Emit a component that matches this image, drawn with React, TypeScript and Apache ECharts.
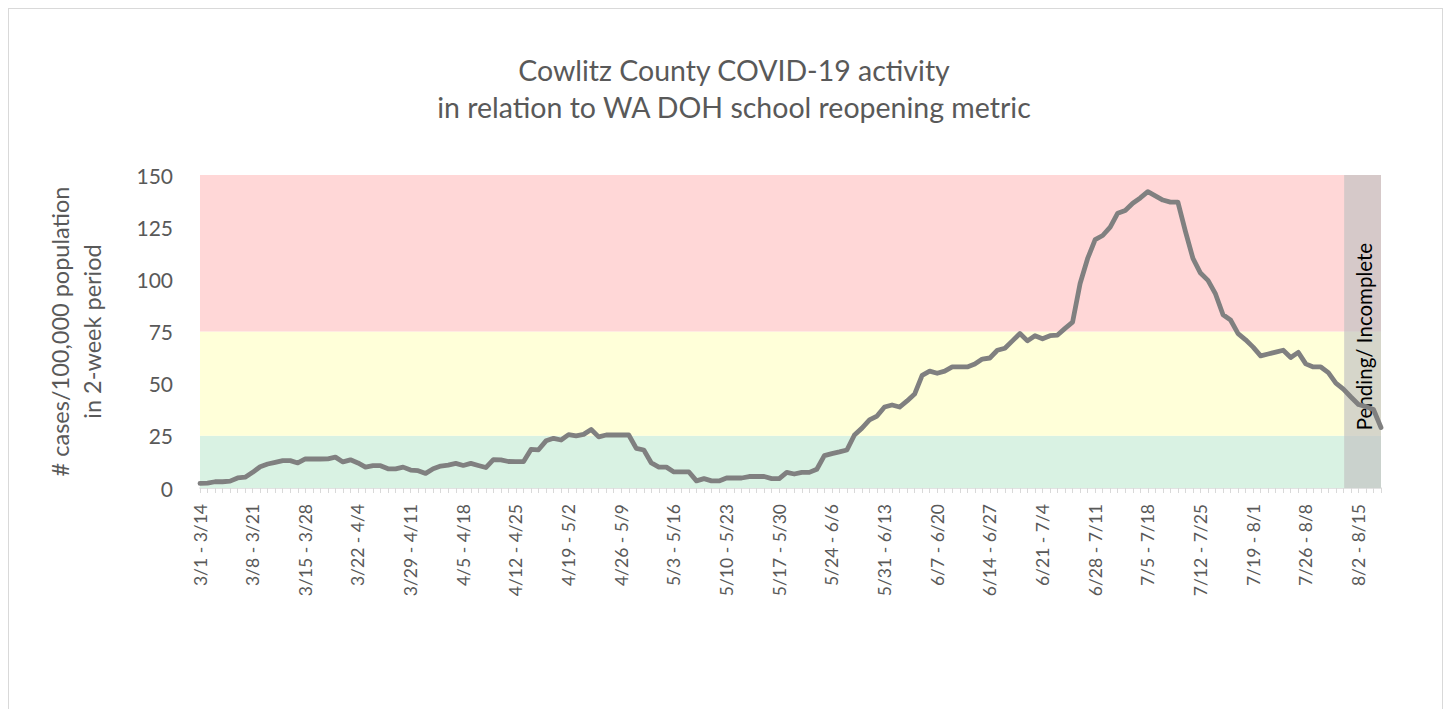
import React, { useEffect, useRef } from "react";
import * as echarts from "echarts";

// ---- data ----
const FIRST_DAY = { year: 2020, month: 2, day: 1 }; // March 1 (month 0-based)
const PERIOD_COUNT = 158;
const makeLabel = (i: number) => {
  const s = new Date(Date.UTC(FIRST_DAY.year, FIRST_DAY.month, FIRST_DAY.day + i));
  const e = new Date(Date.UTC(FIRST_DAY.year, FIRST_DAY.month, FIRST_DAY.day + i + 13));
  return `${s.getUTCMonth() + 1}/${s.getUTCDate()} - ${e.getUTCMonth() + 1}/${e.getUTCDate()}`;
};
const categories: string[] = Array.from({ length: PERIOD_COUNT }, (_, i) => makeLabel(i));

const casesPer100k: number[] = [
  2.2, 2.3, 3, 3, 3.3, 4.8, 5.2, 7.5, 10.2, 11.5,
  12.3, 13.1, 13.1, 12, 13.9, 13.9, 13.9, 14, 14.8, 12.5,
  13.5, 12, 10, 10.7, 10.7, 9.2, 9.2, 10, 8.6, 8.3,
  7, 9.2, 10.5, 11, 11.8, 10.8, 11.8, 10.8, 9.8, 13.6,
  13.5, 12.7, 12.6, 12.6, 18.5, 18.3, 22.6, 23.8, 23, 25.6,
  25, 25.7, 28, 24.5, 25.4, 25.4, 25.4, 25.4, 19, 18.2,
  12, 10, 10, 7.7, 7.7, 7.7, 3.4, 4.5, 3.4, 3.4,
  4.8, 4.8, 4.8, 5.5, 5.5, 5.5, 4.5, 4.5, 7.5, 6.7,
  7.5, 7.5, 9, 15.5, 16.5, 17.3, 18.2, 25.4, 28.7, 32.6,
  34.5, 38.8, 39.8, 38.8, 41.7, 45, 54, 56, 55, 56,
  58, 58, 58, 59.4, 61.8, 62.3, 66, 67, 70.5, 74,
  70.5, 73, 71.5, 73, 73.3, 76.5, 79.5, 98, 110, 119,
  121, 125, 131.7, 133, 136.5, 139, 142, 140, 138, 137,
  137, 123, 110, 103, 99.5, 93, 83, 80.5, 74, 71,
  67.5, 63.3, 64.2, 65.1, 66, 62.5, 65, 59.5, 58, 58,
  55.3, 50.3, 47.4, 43.6, 40, 39, 37.6, 29,
];

const bandLimits: number[] = [0, 25, 75, 150];
const bandColors: string[] = ["#D9F2E3", "#FFFFD9", "#FFD7D7"];
const pendingRange: number[] = [152.1, 157.5];
const pendingLabel = "Pending/ Incomplete";
const yTicks = { min: 0, max: 150, interval: 25 };

const titleText = "Cowlitz County COVID-19 activity\nin relation to WA DOH school reopening metric";
const yName = "# cases/100,000 population\nin 2-week period";

const FONT = "Lato, 'Open Sans', sans-serif";

export default function App() {
  const ref = useRef<HTMLDivElement>(null);
  useEffect(() => {
    if (!ref.current) return;
    const chart = echarts.init(ref.current, undefined, { renderer: "svg" });
    const bandAreas = bandColors.map((c, k) => [
      { yAxis: bandLimits[k], itemStyle: { color: c } },
      { yAxis: bandLimits[k + 1] },
    ]);
    chart.setOption({
      animation: false,
      title: {
        text: titleText,
        left: 729,
        textAlign: "center",
        top: 46,
        textStyle: {
          fontFamily: FONT,
          fontSize: 28.5,
          fontWeight: "normal",
          color: "#595959",
          lineHeight: 37,
        },
      },
      grid: { left: 200, right: 69, top: 175, bottom: 221, containLabel: false },
      xAxis: [
        {
          type: "category",
          data: categories,
          boundaryGap: false,
          axisLine: { lineStyle: { color: "#d9d9d9", width: 1.5 } },
          axisTick: { show: true, interval: 0, length: 5, lineStyle: { color: "#d9d9d9" } },
          axisLabel: {
            interval: 6,
            rotate: 90,
            margin: 16,
            fontSize: 17.5,
            color: "#595959",
            fontFamily: FONT,
          },
          splitLine: { show: false },
        },
        { type: "value", min: 0, max: PERIOD_COUNT - 1, show: false, position: "bottom" },
      ],
      yAxis: {
        type: "value",
        min: yTicks.min,
        max: yTicks.max,
        interval: yTicks.interval,
        axisLine: { show: false },
        axisTick: { show: false },
        splitLine: { show: false },
        axisLabel: { margin: 27, fontSize: 21, color: "#595959", fontFamily: FONT },
        name: yName,
        nameLocation: "middle",
        nameRotate: 90,
        nameGap: 92,
        nameTextStyle: { fontSize: 23.5, color: "#595959", fontFamily: FONT, lineHeight: 32 },
      },
      series: [
        {
          type: "line",
          data: casesPer100k,
          symbol: "none",
          silent: true,
          lineStyle: { opacity: 0 },
          z: 1,
          markArea: { silent: true, data: bandAreas },
        },
        {
          type: "line",
          data: casesPer100k,
          symbol: "none",
          lineStyle: { color: "#808080", width: 4.8, cap: "round", join: "round" },
          z: 3,
        },
        {
          type: "line",
          xAxisIndex: 1,
          data: [[pendingRange[0], null]],
          symbol: "none",
          silent: true,
          z: 5,
          markArea: {
            silent: true,
            itemStyle: { color: "rgba(195,195,195,0.68)" },
            label: {
              show: true,
              position: "inside",
              rotate: 90,
              fontSize: 20.5,
              color: "#000000",
              fontFamily: FONT,
              offset: [-5, 1],
            },
            data: [[{ xAxis: pendingRange[0], name: pendingLabel }, { xAxis: pendingRange[1] }]],
          },
        },
      ],
    });
    return () => chart.dispose();
  }, []);
  return (
    <div style={{ position: "absolute", left: 0, top: 0, width: 1450, height: 709, overflow: "hidden", background: "#fff" }}>
      <div ref={ref} style={{ position: "absolute", left: 0, top: 0, width: 1450, height: 709 }} />
      <div
        style={{
          position: "absolute",
          left: 8,
          top: 8,
          width: 1433,
          height: 720,
          border: "1px solid #d9d9d9",
          pointerEvents: "none",
        }}
      />
    </div>
  );
}
